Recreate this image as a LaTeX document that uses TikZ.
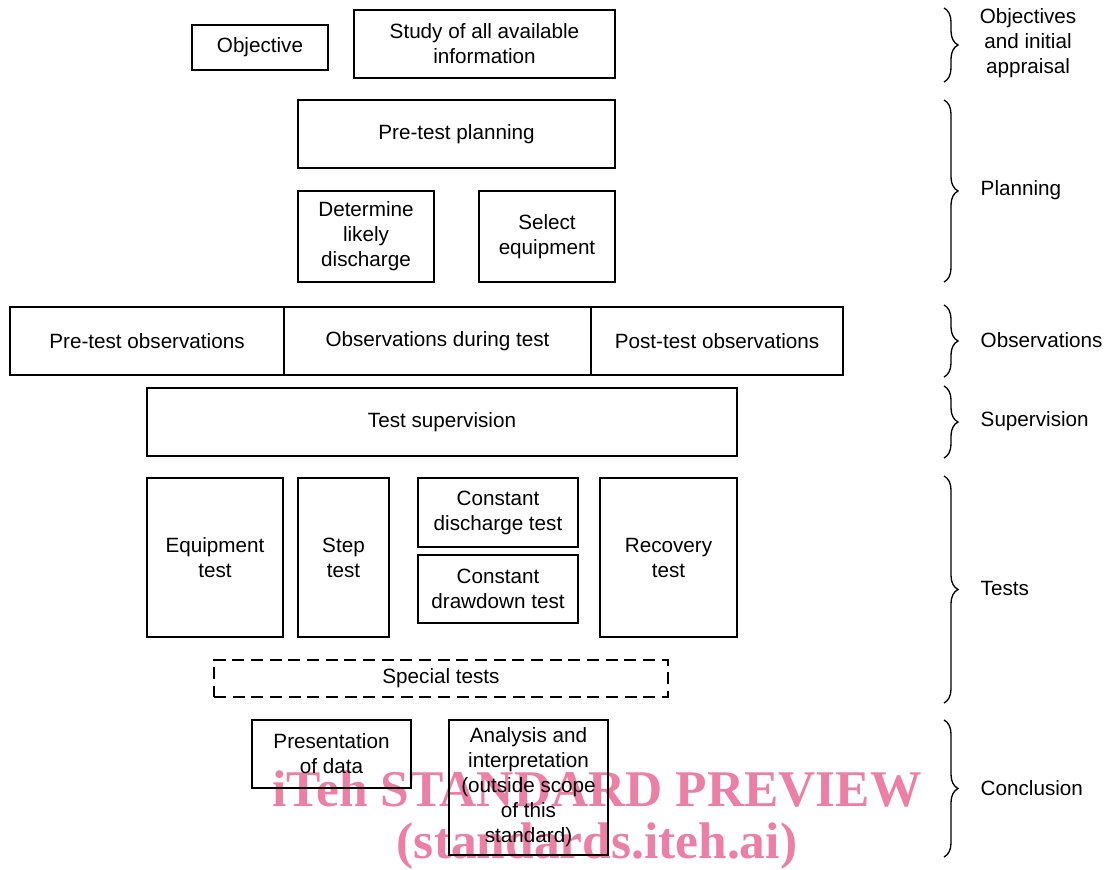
\documentclass[tikz,border=0pt]{standalone}
\usepackage{fontspec}
\setmainfont{Liberation Sans}
\newfontfamily\wmfont{Liberation Serif}
\usepackage{tikz}
\usetikzlibrary{decorations.pathreplacing}
\definecolor{wmpink}{RGB}{236,128,164}

\begin{document}
\begin{tikzpicture}[x=0.75pt,y=-0.75pt,
                    every node/.style={font=\fontsize{15.5}{18.75}\selectfont},
                    box/.style={draw, line width=1.4pt, align=center, inner sep=0pt},
                    sz/.style 2 args={minimum width=#1*0.75pt, minimum height=#2*0.75pt},
                    brc/.style={decorate, line width=1pt,
                                decoration={brace, amplitude=10.5pt, aspect=0.5}},
                    side/.style={anchor=west, align=center},
                    wm/.style={text=wmpink, font=\wmfont\bfseries\fontsize{38.6}{40}\selectfont}]
  \useasboundingbox (0,0) rectangle (1106,870);

  %Watermark (behind)%
  \node[wm] (wm1) at (597,789) {iTeh STANDARD PREVIEW};
  \node[wm] (wm2) at (597,846) {(standards.iteh.ai)};

  %Objectives%
  \node[box, sz={136}{45}] (obj) at (260,47.5) {Objective};
  \node[box, sz={261}{68}] (study) at (484.5,44) {Study of all available\\information};

  %Planning%
  \node[box, sz={317}{68}] (plan) at (456.5,134) {Pre-test planning};
  \node[box, sz={136}{91}] (disch) at (366,236.5) {Determine\\likely\\discharge};
  \node[box, sz={136}{91}] (equip) at (547,236.5) {Select\\equipment};

  %Observations%
  \node[box, sz={274}{68}] (preobs) at (147,341) {Pre-test observations};
  \node[box, sz={307}{68}] (durobs) at (437.5,341) {Observations during test};
  \node[box, sz={252}{68}] (postobs) at (717,341) {Post-test observations};

  %Supervision%
  \node[box, sz={590}{68}] (superv) at (442,422) {Test supervision};

  %Tests%
  \node[box, sz={136}{159}] (eqtest) at (215,557.5) {Equipment\\test};
  \node[box, sz={91}{159}] (steptest) at (343.5,557.5) {Step\\test};
  \node[box, sz={160}{69}] (cdis) at (498,512.5) {Constant\\discharge test};
  \node[box, sz={160}{68}] (cdraw) at (498,589) {Constant\\drawdown test};
  \node[box, sz={137}{159}] (recov) at (668.5,557.5) {Recovery\\test};
  \node[box, dashed, dash pattern=on 9pt off 5pt, sz={454}{37}] (special) at (441,678.5) {Special tests};

  %Conclusion%
  \node[box, sz={159}{68}] (present) at (331.5,754) {Presentation\\of data};
  \node[box, sz={159}{135}] (analysis) at (528.5,787.5) {Analysis and\\interpretation\\(outside scope\\of this\\standard)};

  %Braces%
  \draw[brc] (944,8) -- (944,82);
  \draw[brc] (944,100) -- (944,282);
  \draw[brc] (944,305) -- (944,377);
  \draw[brc] (944,386) -- (944,458);
  \draw[brc] (944,476) -- (944,703);
  \draw[brc] (944,720) -- (944,857);

  \node[align=center] (lobj) at (1028,43) {Objectives\\and initial\\appraisal};
  \node[side] (lplan) at (976,190) {Planning};
  \node[side] (lobs) at (976,340) {Observations};
  \node[side] (lsup) at (976,421) {Supervision};
  \node[side] (ltest) at (976,588) {Tests};
  \node[side] (lconc) at (976,788) {Conclusion};
\end{tikzpicture}
\end{document}
